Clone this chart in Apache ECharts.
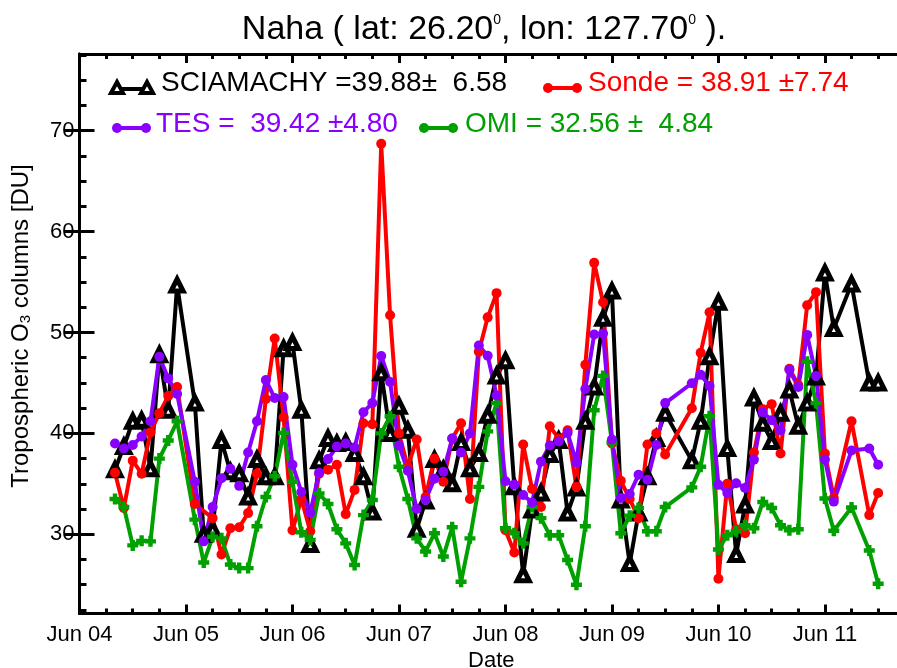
<!DOCTYPE html>
<html>
<head>
<meta charset="utf-8">
<script src="https://cdn.jsdelivr.net/npm/echarts@6/dist/echarts.min.js"></script>
<style>
html,body{margin:0;padding:0;background:#fff;}
#chart{width:897px;height:668px;}
</style>
</head>
<body>
<div id="chart"></div>
<script>
// months counted from Jun 2004 (0); first observation = Oct 2004
const firstMonth = 4;
const tickLabels = ['Jun 04','Jun 05','Jun 06','Jun 07','Jun 08','Jun 09','Jun 10','Jun 11'];
const yTickLabels = [30, 40, 50, 60, 70];

const sciamachy = [36.4,38.7,41.2,41.3,36.5,47.8,42.3,54.7,null,43.0,30.0,30.5,39.3,36.2,36.0,33.7,37.4,35.7,35.7,48.4,
  49.0,42.3,29.0,37.3,39.5,39.0,39.1,38.0,35.7,32.2,46.0,40.0,42.7,40.3,30.5,33.3,37.4,36.4,35.0,39.1,
  36.5,38.0,41.8,45.7,47.2,34.7,26.0,32.4,34.1,37.9,39.3,32.1,34.6,41.2,44.6,51.4,54.1,33.4,27.1,32.1,
  35.7,39.5,42.0,null,null,37.3,41.2,47.6,53.0,38.5,28.0,32.9,43.5,41.0,39.2,42.0,44.3,40.7,43.0,45.6,
  55.9,50.4,null,54.8,null,45.0,45.0];
const sonde = [36.1,32.6,37.3,36.0,40.1,42.0,43.7,44.6,null,33.0,null,31.6,28.0,30.6,30.7,32.1,36.0,43.4,49.4,41.6,
  30.4,33.5,30.3,36.0,36.4,36.9,32.0,34.4,41.0,40.9,68.7,51.7,40.0,36.7,39.4,33.7,37.5,35.2,39.5,41.0,
  33.5,48.1,51.5,53.9,30.4,28.2,38.9,34.5,32.7,40.7,39.5,40.3,34.7,46.8,56.9,53.0,39.0,35.3,33.5,31.6,
  38.9,40.0,37.9,null,null,42.5,48.0,52.0,25.6,35.0,30.5,30.1,38.1,42.4,42.9,38.0,46.4,44.8,52.7,54.0,
  38.0,33.6,null,41.2,null,31.9,34.1];
const tes = [39.0,38.5,38.85,39.7,41.2,47.6,45.45,43.9,null,35.2,29.3,32.7,35.55,36.5,34.8,38.1,41.2,45.3,43.5,43.6,
  36.9,34.2,32.15,36.1,37.45,38.7,39.0,38.6,42.1,43.0,47.67,45.1,38.8,36.3,32.5,33.4,35.5,36.2,39.5,38.1,
  40.0,48.7,47.7,43.75,35.25,34.9,33.9,33.15,37.2,38.8,39.2,40.05,37.1,44.4,49.8,49.9,39.4,33.6,34.0,35.9,
  35.4,38.85,43.0,null,null,44.97,45.8,44.7,34.9,34.1,35.06,34.6,37.4,42.1,41.3,40.3,46.3,44.6,49.76,45.7,
  37.4,33.24,null,38.3,null,38.5,36.9];
const omi = [33.5,32.7,28.9,29.35,29.3,37.5,39.3,41.2,null,31.45,27.2,29.75,29.6,27.0,26.65,26.65,30.8,33.7,35.75,40.05,
  35.2,30.2,29.45,34.06,33.0,30.5,29.1,26.96,31.9,33.4,40.0,41.7,36.7,33.5,29.6,28.3,30.1,27.8,30.7,25.3,
  29.6,34.7,40.2,43.0,30.6,30.1,29.1,32.7,31.6,29.9,29.9,27.45,25.0,30.8,42.3,45.7,39.1,30.1,31.85,32.6,
  30.3,30.3,32.7,null,null,34.65,36.7,41.7,28.5,29.9,30.3,30.9,30.6,33.2,32.6,30.9,30.4,30.5,47.1,43.0,
  33.55,30.35,null,32.65,null,28.4,25.1];

const legendText = {
  sciamachy: 'SCIAMACHY =39.88\u00B1  6.58',
  sonde: 'Sonde = 38.91 \u00B17.74',
  tes: 'TES =  39.42 \u00B14.80',
  omi: 'OMI = 32.56 \u00B1  4.84'
};

const C = {black:'#000000', red:'#ff0000', purple:'#8a00ff', green:'#00a000'};
const FONT = '"Liberation Sans", Arial, Helvetica, sans-serif';

function pairs(arr){ return arr.map((v,i)=>[firstMonth+i, v]); }

const xMin = 0, xMax = 92.8, yMin = 22.15, yMax = 77.6;
const xMajor = tickLabels.map((_,i)=>i*12);
const xMinor = [];
for (let m = 3; m < xMax; m += 3) if (m % 12 !== 0) xMinor.push(m);
const yMinor = [];
for (let v = 22.5; v <= yMax; v += 2.5) if (v % 10 !== 0) yMinor.push(v);

const plusPath = 'path://M3,0H7V3H10V7H7V10H3V7H0V3H3Z';

const chart = echarts.init(document.getElementById('chart'), null, {renderer:'canvas'});

function xAxisDef(pos, major, show){
  return {
    type:'value', min:xMin, max:xMax, position:pos,
    axisLine:{show:show, lineStyle:{color:'#000', width:3}},
    axisTick:{show:true, inside:true, length: major?9:5, customValues: major?xMajor:xMinor, lineStyle:{color:'#000', width:3}},
    axisLabel:{show: major && pos==='bottom', customValues:xMajor, formatter:(v)=>tickLabels[Math.round(v/12)],
      fontSize:22, color:'#000', margin:10, fontFamily:FONT},
    splitLine:{show:false}
  };
}
function yAxisDef(pos, major, show){
  return {
    type:'value', min:yMin, max:yMax, position:pos,
    axisLine:{show:show, lineStyle:{color:'#000', width:3}},
    axisTick:{show: major || pos==='left', inside:true, length: major?15:7, customValues: major?yTickLabels:yMinor, lineStyle:{color:'#000', width:3}},
    axisLabel:{show: major && pos==='left', customValues:yTickLabels, formatter:(v)=>String(v),
      fontSize:22, color:'#000', margin:5, fontFamily:FONT},
    splitLine:{show:false}
  };
}

const xAxes = [xAxisDef('bottom',true,true), xAxisDef('bottom',false,false), xAxisDef('top',true,true), xAxisDef('top',false,false)];
xAxes[0].name = 'Date';
xAxes[0].nameLocation = 'middle';
xAxes[0].nameGap = 36;
xAxes[0].nameTextStyle = {fontSize:22, color:'#000', fontFamily:FONT};

const yAxes = [yAxisDef('left',true,true), yAxisDef('left',false,false), yAxisDef('right',true,true), yAxisDef('right',false,false)];

function lineSeries(name, data, color, symbol, size, itemStyle){
  return {
    name, type:'line', data:pairs(data), connectNulls:true,
    xAxisIndex:0, yAxisIndex:0,
    lineStyle:{color, width:4},
    symbol, symbolSize:size, showSymbol:true,
    itemStyle: itemStyle || {color},
    emphasis:{disabled:true}, animation:false
  };
}

const legendY1 = 89, legendY2 = 128;
function legendIcon(x1, x2, y, color, kind){
  const els = [{type:'line', shape:{x1, y1:y, x2, y2:y}, style:{stroke:color, lineWidth:4}}];
  [x1, x2].forEach(cx=>{
    if (kind==='tri') {
      els.push({type:'polygon', shape:{points:[[cx, y-7],[cx-6, y+4],[cx+6, y+4]]}, style:{fill:'#fff', stroke:'#000', lineWidth:4, lineJoin:'miter'}});
    } else {
      els.push({type:'circle', shape:{cx, cy:y, r:5}, style:{fill:color}});
    }
  });
  return els;
}
function legendLabel(x, y, text, color){
  return {type:'text', x, y, style:{text, fill:color, font:'28px '+FONT, textVerticalAlign:'middle', textAlign:'left'}};
}

const graphics = [].concat(
  legendIcon(117, 147, legendY1, C.black, 'tri'),
  [legendLabel(161, 83, legendText.sciamachy, C.black)],
  legendIcon(548, 577, legendY1-1, C.red, 'dot'),
  [legendLabel(588, 83, legendText.sonde, C.red)],
  legendIcon(117, 146, legendY2, C.purple, 'dot'),
  [legendLabel(156, 124, legendText.tes, C.purple)],
  legendIcon(424, 453, legendY2, C.green, 'dot'),
  [legendLabel(465, 124, legendText.omi, C.green)],
  [{
    type:'text', x:484, y:30,
    style:{text:'Naha ( lat: 26.20{s|0}, lon: 127.70{s|0} ).', font:'34px '+FONT, fill:'#000',
      textAlign:'center', textVerticalAlign:'middle',
      rich:{s:{fontSize:14, verticalAlign:'top', fontFamily:FONT, fill:'#000'}}}
  },{
    type:'text', x:21, y:326, rotation:Math.PI/2,
    style:{text:'Tropospheric O{sub|3} columns [DU]', font:'24px '+FONT, fill:'#000',
      textAlign:'center', textVerticalAlign:'middle',
      rich:{sub:{fontSize:15, verticalAlign:'bottom', fontFamily:FONT, fill:'#000'}}}
  }]
);

chart.setOption({
  animation:false,
  backgroundColor:'#fff',
  grid:{left:79.5, top:54, width:823.5, height:559.5, containLabel:false, outerBoundsMode:'none'},
  xAxis: xAxes,
  yAxis: yAxes,
  series:[
    lineSeries('SCIAMACHY', sciamachy, C.black, 'triangle', 12, {color:'#fff', borderColor:'#000', borderWidth:5}),
    lineSeries('Sonde', sonde, C.red, 'circle', 10),
    lineSeries('OMI', omi, C.green, plusPath, 11),
    lineSeries('TES', tes, C.purple, 'circle', 10)
  ],
  graphic: graphics
});
</script>
</body>
</html>
